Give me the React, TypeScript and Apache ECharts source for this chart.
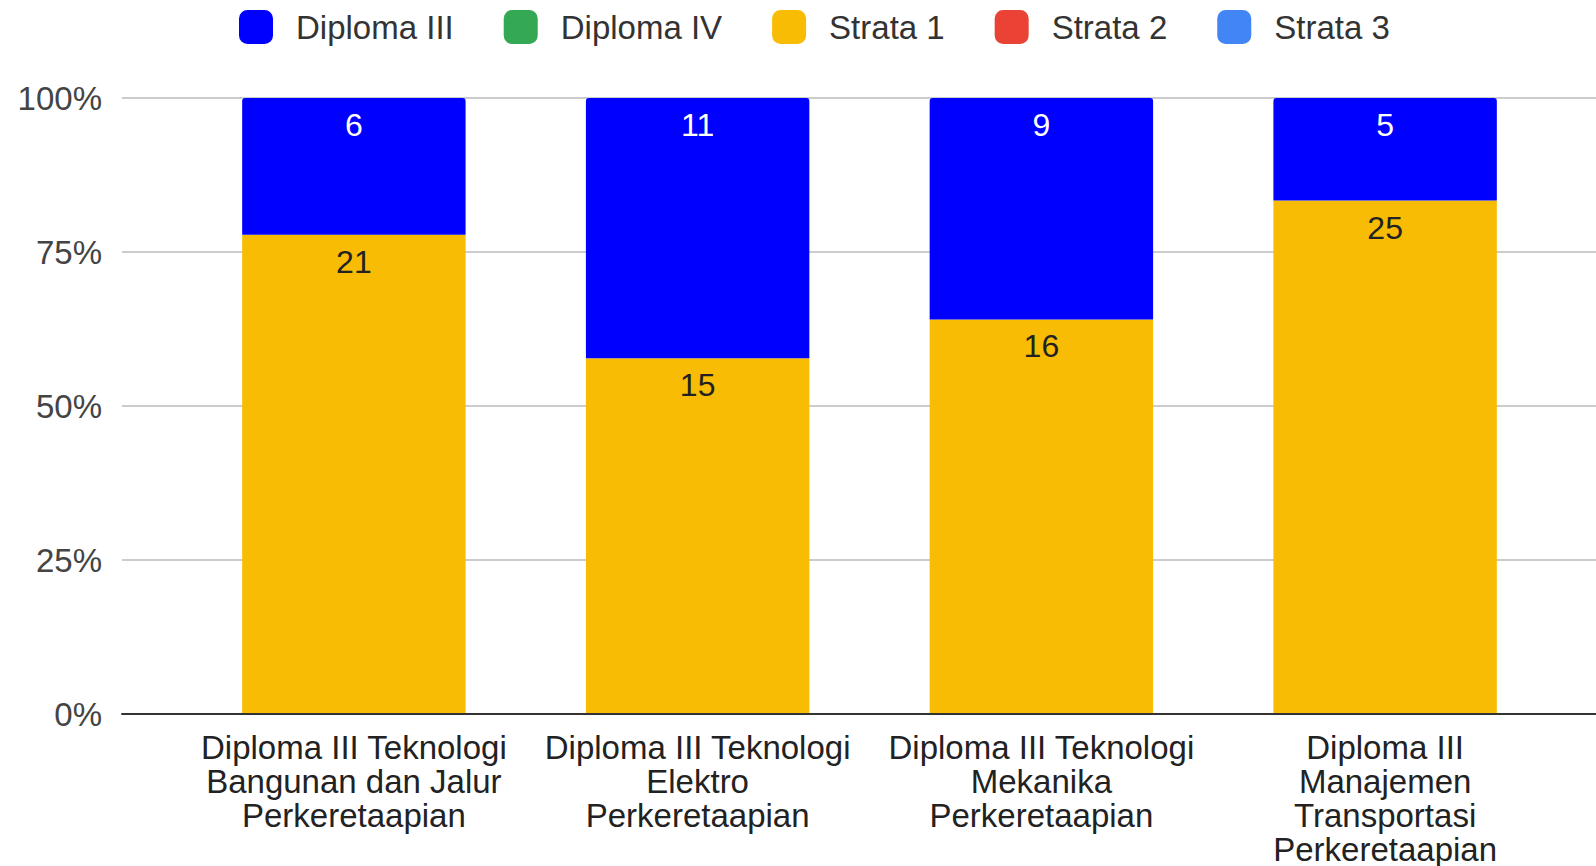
import React, { useEffect, useRef } from "react";
import * as echarts from "echarts";

const categories = [
  "Diploma III Teknologi\nBangunan dan Jalur\nPerkeretaapian",
  "Diploma III Teknologi\nElektro\nPerkeretaapian",
  "Diploma III Teknologi\nMekanika\nPerkeretaapian",
  "Diploma III\nManajemen\nTransportasi\nPerkeretaapian",
];
const diploma3 = [6, 11, 9, 5];
const diploma4 = [0, 0, 0, 0];
const strata1 = [21, 15, 16, 25];
const strata2 = [0, 0, 0, 0];
const strata3 = [0, 0, 0, 0];
const yTicks = [0, 25, 50, 75, 100];

const FONT = "'Liberation Sans', Arial, sans-serif";

export default function App() {
  const ref = useRef<HTMLDivElement>(null);
  useEffect(() => {
    if (!ref.current) return;
    const chart = echarts.init(ref.current, undefined, { renderer: "svg" });
    const totals = categories.map(
      (_, i) => diploma3[i] + diploma4[i] + strata1[i] + strata2[i] + strata3[i]
    );
    const pct = (arr: number[]) =>
      arr.map((v, i) => ({ value: (v / totals[i]) * 100, raw: v }));
    const labelFmt = (p: any) => (p.data && p.data.raw ? String(p.data.raw) : "");
    const mk = (name: string, arr: number[], color: string, labelColor: string, radius: number[]) => ({
      name,
      type: "bar",
      stack: "total",
      xAxisIndex: 1,
      yAxisIndex: 1,
      barCategoryGap: "35%",
      data: pct(arr),
      itemStyle: { color, borderRadius: radius },
      label: {
        show: true,
        position: "insideTop",
        distance: 11,
        formatter: labelFmt,
        color: labelColor,
        fontSize: 32,
        fontFamily: FONT,
      },
    });
    chart.setOption({
      animation: false,
      legend: {
        data: ["Diploma III", "Diploma IV", "Strata 1", "Strata 2", "Strata 3"],
        left: 234,
        top: 5,
        itemWidth: 34,
        itemHeight: 34,
        itemGap: 50,
        icon: "roundRect",
        textStyle: {
          fontSize: 33,
          fontFamily: FONT,
          color: "#333",
          padding: [0, 0, 0, 18],
        },
      },
      grid: [
        { left: 122, right: 0, top: 98, bottom: 152 },
        { left: 182, right: 39, top: 98, bottom: 152 },
      ],
      xAxis: [
        {
          type: "value",
          gridIndex: 0,
          min: 0,
          max: 1,
          axisLine: { show: true, onZero: false, lineStyle: { color: "#333", width: 2 } },
          axisTick: { show: false },
          axisLabel: { show: false },
          splitLine: { show: false },
        },
        {
          type: "category",
          gridIndex: 1,
          data: categories,
          axisLine: { show: false },
          axisTick: { show: false },
          axisLabel: {
            margin: 17,
            fontSize: 33,
            lineHeight: 34,
            fontFamily: FONT,
            color: "#222",
            interval: 0,
          },
        },
      ],
      yAxis: [
        {
          type: "value",
          gridIndex: 0,
          min: yTicks[0],
          max: yTicks[yTicks.length - 1],
          interval: 25,
          axisLine: { show: false },
          axisTick: { show: false },
          axisLabel: {
            formatter: "{value}%",
            margin: 20,
            fontSize: 33,
            fontFamily: FONT,
            color: "#444",
          },
          splitLine: { lineStyle: { color: "#ccc", width: 2 } },
        },
        {
          type: "value",
          gridIndex: 1,
          min: 0,
          max: 100,
          show: false,
          splitLine: { show: false },
        },
      ],
      series: [
        mk("Strata 1", strata1, "#f9bc05", "#222", [0, 0, 0, 0]),
        mk("Diploma III", diploma3, "#0000ff", "#ffffff", [3, 3, 0, 0]),
        mk("Diploma IV", diploma4, "#34a853", "#fff", [0, 0, 0, 0]),
        mk("Strata 2", strata2, "#ea4335", "#fff", [0, 0, 0, 0]),
        mk("Strata 3", strata3, "#4285f4", "#fff", [0, 0, 0, 0]),
      ],
    });
    return () => chart.dispose();
  }, []);
  return (
    <div
      ref={ref}
      style={{ position: "fixed", left: 0, top: 0, width: 1596, height: 866, background: "#fff" }}
    />
  );
}
